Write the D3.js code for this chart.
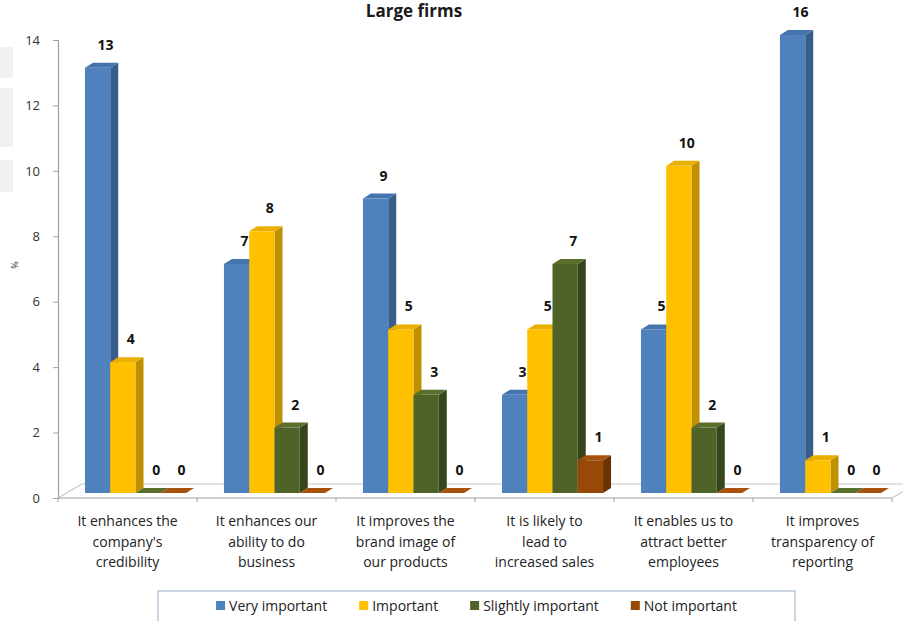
<!DOCTYPE html>
<html>
<head>
<meta charset="utf-8">
<script src="https://cdn.jsdelivr.net/npm/d3@7"></script>
<style>
  html, body { margin: 0; padding: 0; background: #fff; }
  svg { display: block; font-family: "Open Sans", "Lato", sans-serif; }
</style>
</head>
<body>
<svg id="chart" width="903" height="621"></svg>
<script>
// ---- data ----
const categories = [
  "It enhances the\ncompany's\ncredibility",
  "It enhances our\nability to do\nbusiness",
  "It improves the\nbrand image of\nour products",
  "It is likely to\nlead to\nincreased sales",
  "It enables us to\nattract better\nemployees",
  "It improves\ntransparency of\nreporting"
];
const seriesNames = ["Very important", "Important", "Slightly important", "Not important"];
const veryImportant = [13, 7, 9, 3, 5, 16];
const important = [4, 8, 5, 5, 10, 1];
const slightlyImportant = [0, 2, 3, 7, 2, 0];
const notImportant = [0, 0, 0, 1, 0, 0];
const yTicks = [0, 2, 4, 6, 8, 10, 12, 14];
const titleText = "Large firms";
const yLabel = "%";

const seriesValues = [veryImportant, important, slightlyImportant, notImportant];
const colors = [
  { front: "#4F81BD", side: "#385D8A", top: "#4473AD" },
  { front: "#FFC000", side: "#BF9000", top: "#E8AE00" },
  { front: "#4F6228", side: "#37451C", top: "#5A6F2E" },
  { front: "#984807", side: "#6A3205", top: "#A9520C" }
];

// ---- layout ----
const svg = d3.select("#chart");
const left = 58, right = 892, axisTop = 40, axisBottom = 498;
const barDx = 8, barDy = 5;      // bar depth
const floorDx = 24, floorDy = 14; // floor depth
const yMax = 14;

const x = d3.scaleBand().domain(d3.range(categories.length)).range([left, right]).padding(0);
const inner = d3.scaleBand().domain(d3.range(seriesNames.length)).range([0, x.bandwidth()])
  .paddingInner(0).paddingOuter(0.75);
const y = d3.scaleLinear().domain([0, yMax]).range([axisBottom, axisTop]);

// faint left-edge artifact
const deco = svg.append("g").attr("fill", "#f1f1f1");
[[47, 78], [88, 147], [160, 192]].forEach(([a, b]) =>
  deco.append("rect").attr("x", 0).attr("y", a).attr("width", 13).attr("height", b - a));

// title
svg.append("text").attr("x", 414).attr("y", 17).attr("text-anchor", "middle")
  .attr("font-size", 17).attr("font-weight", "bold").attr("fill", "#1a1a1a").text(titleText);

// floor
const floor = svg.append("g");
floor.append("line").attr("x1", left + floorDx).attr("x2", right + floorDx)
  .attr("y1", axisBottom - floorDy).attr("y2", axisBottom - floorDy)
  .attr("stroke", "#c8c8c8").attr("stroke-width", 1.2);
floor.append("line").attr("x1", left).attr("y1", axisBottom).attr("x2", left + floorDx).attr("y2", axisBottom - floorDy)
  .attr("stroke", "#c8c8c8").attr("stroke-width", 1.2);
floor.append("line").attr("x1", right).attr("y1", axisBottom).attr("x2", right + floorDx).attr("y2", axisBottom - floorDy)
  .attr("stroke", "#c8c8c8").attr("stroke-width", 1.2);
floor.append("line").attr("x1", left).attr("x2", right).attr("y1", axisBottom).attr("y2", axisBottom)
  .attr("stroke", "#a0a0a0").attr("stroke-width", 1.2);
// x ticks at category boundaries
floor.selectAll("line.xt").data(d3.range(categories.length + 1)).join("line").attr("class", "xt")
  .attr("x1", i => left + i * x.step()).attr("x2", i => left + i * x.step())
  .attr("y1", axisBottom).attr("y2", axisBottom + 4)
  .attr("stroke", "#a0a0a0");

// y axis
const yAxis = svg.append("g").attr("transform", `translate(${left},0)`)
  .call(d3.axisLeft(y).tickValues(yTicks).tickSize(5).tickPadding(13).tickFormat(d3.format("d")));
yAxis.select(".domain").attr("stroke", "#a0a0a0").attr("stroke-width", 1.2);
yAxis.selectAll(".tick line").attr("stroke", "#a0a0a0");
yAxis.selectAll(".tick text").attr("font-size", 13).attr("fill", "#333")
  .attr("font-family", "'Open Sans', sans-serif");

svg.append("text").attr("transform", "translate(18,265) rotate(-90)")
  .attr("text-anchor", "middle").attr("font-size", 9).attr("fill", "#333").text(yLabel);

// bars
const bars = [];
categories.forEach((c, ci) => {
  seriesValues.forEach((vals, si) => {
    bars.push({ ci, si, v: vals[ci] });
  });
});
const barsG = svg.append("g");
const bw = inner.bandwidth();
bars.forEach(b => {
  const x0 = x(b.ci) + inner(b.si) + barDx;
  const x1 = x0 + bw;
  const yb = y(0) - barDy;
  const yt = y(Math.min(b.v, yMax)) - barDy;
  const col = colors[b.si];
  const g = barsG.append("g");
  g.append("polygon").attr("points", [[x1, yb], [x1, yt], [x1 + barDx, yt - barDy], [x1 + barDx, yb - barDy]].join(" "))
    .attr("fill", col.side);
  g.append("polygon").attr("points", [[x0, yt], [x0 + barDx, yt - barDy], [x1 + barDx, yt - barDy], [x1, yt]].join(" "))
    .attr("fill", col.top);
  g.append("rect").attr("x", x0).attr("y", yt).attr("width", bw).attr("height", Math.max(0, yb - yt))
    .attr("fill", col.front);
  b.lx = x0 + bw / 2 + 8;
  b.ly = yt - 18;
});
// value labels
svg.append("g").selectAll("text").data(bars).join("text")
  .attr("x", d => d.lx).attr("y", d => d.ly).attr("text-anchor", "middle")
  .attr("font-size", 14).attr("font-weight", "bold").attr("fill", "#111")
  .text(d => d.v);

// category labels
const catG = svg.append("g");
categories.forEach((c, ci) => {
  const t = catG.append("text").attr("text-anchor", "middle").attr("font-size", 14).attr("fill", "#222");
  c.split("\n").forEach((line, li) => {
    t.append("tspan").attr("x", x(ci) + x.bandwidth() / 2).attr("y", 526 + li * 20.5).text(line);
  });
});

// legend
const legBox = { x: 158, y: 591, w: 637, h: 40 };
svg.append("rect").attr("x", legBox.x).attr("y", legBox.y).attr("width", legBox.w).attr("height", legBox.h)
  .attr("fill", "#fff").attr("stroke", "#a8b8cf").attr("stroke-width", 1.2);
const leg = svg.append("g");
const items = seriesNames.map((n, i) => {
  const g = leg.append("g");
  g.append("rect").attr("x", 0).attr("y", -10).attr("width", 9).attr("height", 9).attr("fill", colors[i].front);
  const t = g.append("text").attr("x", 13).attr("y", 0).attr("font-size", 14).attr("fill", "#222").text(n);
  return { g, w: 13 + t.node().getComputedTextLength() };
});
const gap = 32;
const total = d3.sum(items, d => d.w) + gap * (items.length - 1);
let cx = legBox.x + legBox.w / 2 - total / 2;
items.forEach(it => { it.g.attr("transform", `translate(${cx},611)`); cx += it.w + gap; });
</script>
</body>
</html>
